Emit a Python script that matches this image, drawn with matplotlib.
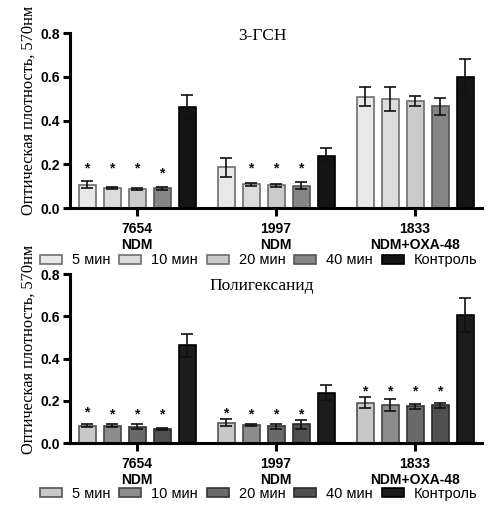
import matplotlib
matplotlib.use("Agg")
import matplotlib.pyplot as plt
import numpy as np

# data
groups = ["7654\nNDM", "1997\nNDM", "1833\nNDM+OXA-48"]
series = ["5 мин", "10 мин", "20 мин", "40 мин", "Контроль"]

# 3-ГСН panel: rows = series, columns = groups
gsn_vals = [[0.107, 0.186, 0.509],
            [0.093, 0.108, 0.498],
            [0.087, 0.104, 0.489],
            [0.090, 0.102, 0.465],
            [0.463, 0.239, 0.600]]
gsn_err = [[0.017, 0.042, 0.042],
           [0.005, 0.006, 0.055],
           [0.004, 0.007, 0.024],
           [0.007, 0.015, 0.040],
           [0.055, 0.035, 0.080]]
# star heights (None = no star)
gsn_star = [[0.18, None, None],
            [0.18, 0.18, None],
            [0.18, 0.18, None],
            [0.16, 0.18, None],
            [None, None, None]]

# Полигексанид panel
phmb_vals = [[0.082, 0.097, 0.191],
             [0.082, 0.087, 0.180],
             [0.078, 0.079, 0.174],
             [0.066, 0.089, 0.178],
             [0.463, 0.239, 0.605]]
phmb_err = [[0.006, 0.018, 0.026],
            [0.008, 0.005, 0.027],
            [0.011, 0.012, 0.012],
            [0.003, 0.021, 0.010],
            [0.055, 0.034, 0.080]]
phmb_star = [[0.147, 0.139, 0.246],
             [0.136, 0.136, 0.246],
             [0.136, 0.136, 0.246],
             [0.136, 0.136, 0.246],
             [None, None, None]]

gsn_colors = ["#e8e8e8", "#dcdcdc", "#cbcbcb", "#858585", "#141414"]
gsn_edges = ["#6e6e6e", "#6e6e6e", "#6e6e6e", "#555555", "#000000"]
phmb_colors = ["#c8c8c8", "#8c8c8c", "#6a6a6a", "#505050", "#1c1c1c"]
phmb_edges = ["#555555", "#444444", "#333333", "#2a2a2a", "#000000"]

yticks = [0.0, 0.2, 0.4, 0.6, 0.8]
group_gap = 5.56
bar_w = 0.68

plt.rcParams["font.family"] = ["Liberation Sans", "DejaVu Sans"]
serif = ["Liberation Serif", "DejaVu Serif"]

fig = plt.figure(figsize=(5.0, 5.2), dpi=100)
ax1 = fig.add_axes([0.14, 0.600, 0.824, 0.3365])
ax2 = fig.add_axes([0.14, 0.148, 0.824, 0.325])


def draw_panel(ax, vals, errs, stars, colors, edges, title, title_y):
    centers = np.arange(len(groups)) * group_gap
    for i, name in enumerate(series):
        x = centers + (i - 2)
        ax.bar(x, vals[i], width=bar_w, color=colors[i], edgecolor=edges[i],
               linewidth=1.2, label=name, zorder=2)
        ax.errorbar(x, vals[i], yerr=errs[i], fmt="none", ecolor="#111111",
                    elinewidth=1.2, capsize=4, capthick=1.2, zorder=3)
        for xx, s in zip(x, stars[i]):
            if s is not None:
                ax.text(xx, s, "*", ha="center", va="center", fontsize=10,
                        fontweight="bold", color="#111111")
    ax.set_ylim(0, 0.8)
    ax.set_xlim(-2.68, 13.8)
    ax.set_yticks(yticks)
    ax.set_yticklabels([f"{t:.1f}" for t in yticks], fontsize=10,
                       fontweight="bold")
    ax.set_xticks(centers)
    ax.set_xticklabels(groups, fontsize=10, fontweight="bold",
                       linespacing=1.15)
    for side in ("top", "right"):
        ax.spines[side].set_visible(False)
    for side in ("left", "bottom"):
        ax.spines[side].set_linewidth(2.2)
    ax.tick_params(axis="both", width=2.2, length=5, pad=2)
    ax.tick_params(axis="x", length=6, pad=4)
    ax.set_ylabel("Оптическая плотность, 570нм", family=serif, fontsize=11.8)
    ax.yaxis.set_label_coords(-0.08, 0.555)
    ax.text(0.466, title_y, title, transform=ax.transAxes, ha="center",
            va="center", family=serif, fontsize=12.5)
    ax.legend(loc="center", bbox_to_anchor=(0.458, -0.30), ncol=5,
              frameon=False, fontsize=10.5, handlelength=1.5,
              handleheight=0.65, handletextpad=0.7, columnspacing=0.6,
              borderaxespad=0)


draw_panel(ax1, gsn_vals, gsn_err, gsn_star, gsn_colors, gsn_edges,
           "3-ГСН", 0.985)
draw_panel(ax2, phmb_vals, phmb_err, phmb_star, phmb_colors, phmb_edges,
           "Полигексанид", 0.93)

fig.savefig("out.png", dpi=100)
